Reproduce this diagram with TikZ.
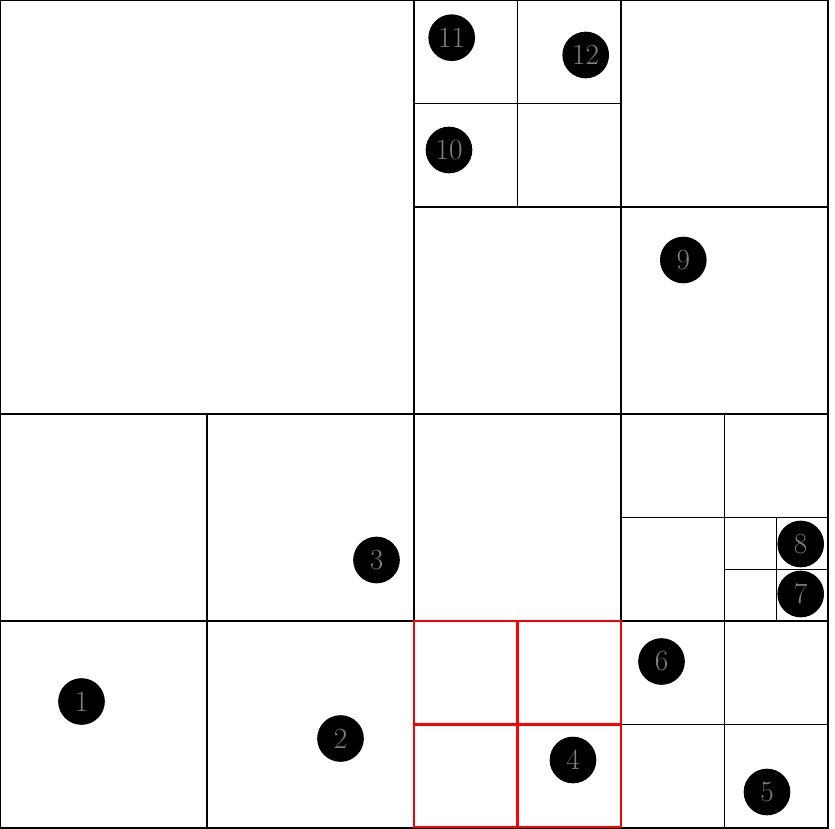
\documentclass[tikz,border=0pt]{standalone}
\begin{document}
\begin{tikzpicture}[x=0.75pt,y=-0.75pt,
  grid/.style={draw=black,line width=1pt},
  redgrid/.style={draw=red,line width=1.6pt},
  pnt/.style={circle,fill=black,minimum size=35pt,inner sep=0pt,text=gray,font=\fontsize{22}{26}\selectfont}]
\useasboundingbox (0,0) rectangle (835,828);
% outer square and main quadrants
\draw[grid] (0,0) rectangle (828,828);
\draw[grid] (414,0) -- (414,828);
\draw[grid] (0,414) -- (828,414);
% top-right quadrant
\draw[grid] (621,0) -- (621,414);
\draw[grid] (414,207) -- (828,207);
\draw[grid] (517.5,0) -- (517.5,207);
\draw[grid] (414,103.5) -- (621,103.5);
% bottom-left quadrant
\draw[grid] (207,414) -- (207,828);
\draw[grid] (0,621) -- (414,621);
% bottom-right quadrant
\draw[grid] (621,414) -- (621,828);
\draw[grid] (414,621) -- (828,621);
\draw[grid] (724.5,414) -- (724.5,621);
\draw[grid] (621,517.5) -- (828,517.5);
\draw[grid] (776.25,517.5) -- (776.25,621);
\draw[grid] (724.5,569.25) -- (828,569.25);
\draw[grid] (724.5,621) -- (724.5,828);
\draw[grid] (621,724.5) -- (828,724.5);
% highlighted cell
\draw[redgrid] (414,621) rectangle (621,827);
\draw[redgrid] (517.5,621) -- (517.5,827);
\draw[redgrid] (414,724.5) -- (621,724.5);
% points
\node[pnt] (n1) at (81.5,701.5) {1};
\node[pnt] (n2) at (340.5,738.5) {2};
\node[pnt] (n3) at (376.5,560) {3};
\node[pnt] (n4) at (573,760) {4};
\node[pnt] (n5) at (767,792) {5};
\node[pnt] (n6) at (661.5,661.5) {6};
\node[pnt] (n7) at (800.7,594) {7};
\node[pnt] (n8) at (800.7,544) {8};
\node[pnt] (n9) at (683.3,260) {9};
\node[pnt] (n10) at (449,150) {10};
\node[pnt] (n11) at (451.7,37.7) {11};
\node[pnt] (n12) at (585.7,55) {12};
\end{tikzpicture}
\end{document}
